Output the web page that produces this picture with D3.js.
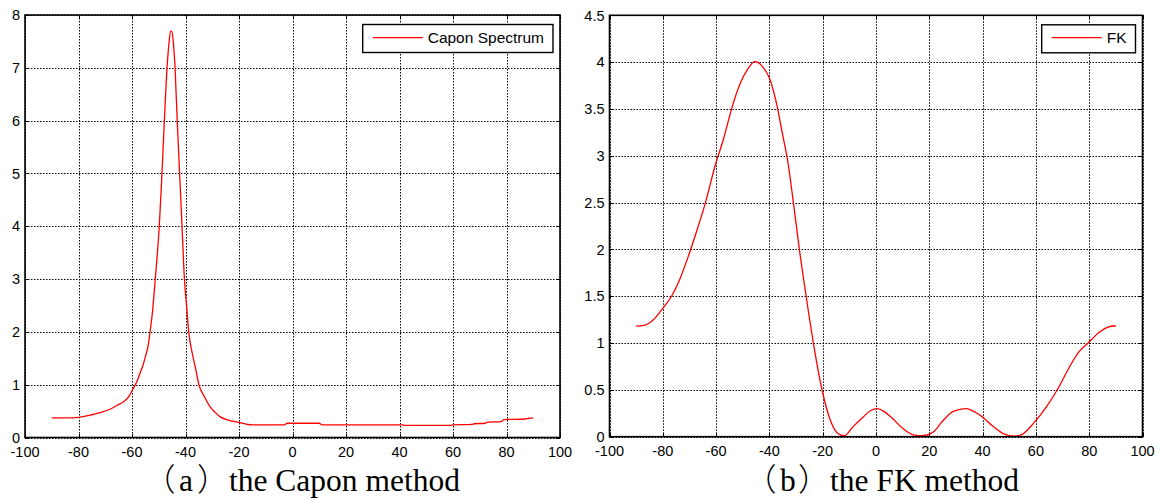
<!DOCTYPE html>
<html>
<head>
<meta charset="utf-8">
<script src="https://cdn.jsdelivr.net/npm/d3@7"></script>
<style>
  html, body { margin: 0; padding: 0; background: #fff; }
  svg { display: block; }
</style>
</head>
<body>
<svg id="chart" width="1161" height="499"></svg>
<script>
// ---------------- data ----------------
const xTicks = [-100, -80, -60, -40, -20, 0, 20, 40, 60, 80, 100];
const caponYTicks = [0, 1, 2, 3, 4, 5, 6, 7, 8];
const fkYTicks = [0, 0.5, 1, 1.5, 2, 2.5, 3, 3.5, 4, 4.5];

const caponAngle = [-90, -85, -80, -76, -72, -68, -65.5, -63, -61, -59.5, -58, -57, -56, -55, -54, -53.3,
  -52.3, -51.3, -50.5, -49.8, -48.8, -47.9, -46.9, -46.2, -45.6, -45.1, -44.5, -43.9, -43.1, -42.2,
  -41.3, -40.4, -39.6, -38.8, -37.5, -36.2, -35, -33, -30.8, -29, -27, -24, -20.5, -17, -15,
  -3, -2, 10, 11, 41, 42, 59, 60, 67, 68, 72, 73, 78, 79, 87, 88, 90];
const caponValue = [0.37, 0.37, 0.38, 0.42, 0.47, 0.54, 0.61, 0.68, 0.79, 0.93, 1.08, 1.22, 1.35, 1.53, 1.73, 1.98,
  2.4, 3.0, 3.5, 4.0, 5.0, 6.0, 7.0, 7.45, 7.69, 7.69, 7.45, 7.0, 6.0, 5.0,
  4.0, 3.0, 2.5, 2.0, 1.6, 1.3, 1.0, 0.78, 0.58, 0.48, 0.39, 0.33, 0.29, 0.25, 0.24,
  0.24, 0.27, 0.27, 0.24, 0.24, 0.23, 0.23, 0.24, 0.25, 0.26, 0.27, 0.29, 0.30, 0.34, 0.35, 0.36, 0.37];

const fkAngle = [-90, -87, -83.5, -80, -76.5, -73.5, -70.5, -67, -64, -60.5, -57, -54, -51, -48, -45.5,
  -42.5, -40, -37.5, -35, -33, -31, -28.7, -26, -23.5, -20.4, -17.2, -14.5, -12, -8.5, -4.8,
  -2, 0.5, 3, 6, 10, 14, 17.5, 21.5, 24.5, 29, 33.7, 39, 44, 48, 51.5, 54.5, 59, 64, 68.4,
  72.7, 76, 79.6, 84, 87, 90];
const fkValue = [1.18, 1.19, 1.25, 1.37, 1.51, 1.69, 1.92, 2.22, 2.5, 2.88, 3.2, 3.52, 3.77, 3.93, 4.005,
  3.95, 3.83, 3.58, 3.22, 2.92, 2.5, 1.99, 1.46, 1.0, 0.52, 0.18, 0.04, 0.01, 0.11, 0.21,
  0.28, 0.30, 0.27, 0.20, 0.09, 0.02, 0.01, 0.05, 0.15, 0.27, 0.30, 0.23, 0.11, 0.03, 0.005, 0.02, 0.14, 0.32, 0.52,
  0.75, 0.9, 1.0, 1.12, 1.17, 1.185];

const legendLabels = ["Capon Spectrum", "FK"];
const captionLabels = ["the Capon method", "the FK method"];
const captionLetters = ["a", "b"];

// ---------------- layout ----------------
const panels = [
  { left: 25, right: 560, top: 15, bottom: 437.5, yMax: 8, yTicks: caponYTicks,
    xs: caponAngle, ys: caponValue, legend: legendLabels[0], caption: captionLabels[0],
    letter: captionLetters[0], captionX: 227 },
  { left: 609.5, right: 1142.5, top: 15.3, bottom: 436.7, yMax: 4.5, yTicks: fkYTicks,
    xs: fkAngle, ys: fkValue, legend: legendLabels[1], caption: captionLabels[1],
    letter: captionLetters[1], captionX: 828 }
];

const svg = d3.select("#chart");
svg.append("rect").attr("width", 1161).attr("height", 499).attr("fill", "#fff");

const tickFont = "'Liberation Sans', Arial, Helvetica, sans-serif";
const serifFont = "'Times New Roman', 'Liberation Serif', serif";
const cjkFont = "'Noto Sans CJK SC', sans-serif";

panels.forEach(p => {
  const x = d3.scaleLinear().domain([-100, 100]).range([p.left, p.right]);
  const y = d3.scaleLinear().domain([0, p.yMax]).range([p.bottom, p.top]);
  const g = svg.append("g");

  // grid
  const grid = g.append("g").attr("stroke", "#000").attr("stroke-width", 1)
    .attr("stroke-dasharray", "1.5,1.5").attr("fill", "none");
  xTicks.forEach(t => {
    const xp = Math.round(x(t)) + 0.5;
    grid.append("line").attr("x1", xp).attr("x2", xp).attr("y1", p.top).attr("y2", p.bottom);
  });
  p.yTicks.forEach(t => {
    const yp = Math.round(y(t)) + 0.5;
    grid.append("line").attr("x1", p.left).attr("x2", p.right).attr("y1", yp).attr("y2", yp);
  });

  // tick marks (inside, all four sides)
  const tk = g.append("g").attr("stroke", "#000").attr("stroke-width", 1).attr("shape-rendering", "crispEdges");
  const tl = 4;
  xTicks.forEach(t => {
    const xp = Math.round(x(t)) + 0.5;
    tk.append("line").attr("x1", xp).attr("x2", xp).attr("y1", p.bottom).attr("y2", p.bottom - tl);
    tk.append("line").attr("x1", xp).attr("x2", xp).attr("y1", p.top).attr("y2", p.top + tl);
  });
  p.yTicks.forEach(t => {
    const yp = Math.round(y(t)) + 0.5;
    tk.append("line").attr("x1", p.left).attr("x2", p.left + tl).attr("y1", yp).attr("y2", yp);
    tk.append("line").attr("x1", p.right).attr("x2", p.right - tl).attr("y1", yp).attr("y2", yp);
  });

  // curve
  const pts = p.xs.map((a, i) => [a, p.ys[i]]);
  const line = d3.line().x(d => x(d[0])).y(d => y(d[1])).curve(d3.curveMonotoneX);
  g.append("path").datum(pts).attr("d", line).attr("fill", "none")
    .attr("stroke", "#ff0000").attr("stroke-width", 1.3).attr("stroke-linejoin", "round");

  // box
  g.append("rect").attr("x", p.left).attr("y", p.top)
    .attr("width", p.right - p.left).attr("height", p.bottom - p.top)
    .attr("fill", "none").attr("stroke", "#000").attr("stroke-width", 1.6);

  // x tick labels
  g.append("g").selectAll("text").data(xTicks).join("text")
    .attr("x", d => x(d)).attr("y", p.bottom + 19.5)
    .attr("text-anchor", "middle").attr("font-family", tickFont).attr("font-size", 14.5)
    .attr("fill", "#000").text(d => String(d));

  // y tick labels
  g.append("g").selectAll("text").data(p.yTicks).join("text")
    .attr("x", p.left - 5).attr("y", d => y(d)).attr("dy", "0.36em")
    .attr("text-anchor", "end").attr("font-family", tickFont).attr("font-size", 14.5)
    .attr("fill", "#000").text(d => String(d));

  // legend
  const lg = g.append("g");
  const boxRight = p.right - 7;
  const lt = lg.append("text").attr("font-family", tickFont).attr("font-size", 15.5)
    .attr("fill", "#000").attr("y", 43.3).text(p.legend);
  const tw = lt.node().getComputedTextLength();
  const textEnd = boxRight - 9;
  const textStart = textEnd - tw;
  lt.attr("x", textStart);
  const lineEnd = textStart - 5, lineStart = lineEnd - 50;
  const boxLeft = lineStart - 10;
  lg.insert("rect", "text").attr("x", boxLeft).attr("y", p.top + 9.5)
    .attr("width", boxRight - boxLeft).attr("height", 28)
    .attr("fill", "#fff").attr("stroke", "#000").attr("stroke-width", 1.4);
  lg.append("line").attr("x1", lineStart).attr("x2", lineEnd).attr("y1", 37.7).attr("y2", 37.7)
    .attr("stroke", "#ff0000").attr("stroke-width", 1.3);

  // caption: （a）the Capon method  — one text element, tspans placed individually
  const cy = 491, fs = 31.5;
  const cap = svg.append("text").attr("y", cy).attr("font-size", fs).attr("fill", "#000")
    .attr("font-family", serifFont);
  cap.append("tspan").attr("x", p.captionX - 83).attr("font-family", cjkFont)
    .attr("font-weight", 300).text("（");
  cap.append("tspan").attr("x", p.captionX - 48).text(p.letter);
  cap.append("tspan").attr("x", p.captionX - 30).attr("font-family", cjkFont)
    .attr("font-weight", 300).text("）");
  cap.append("tspan").attr("x", p.captionX + 2).text(p.caption);
});
</script>
</body>
</html>
